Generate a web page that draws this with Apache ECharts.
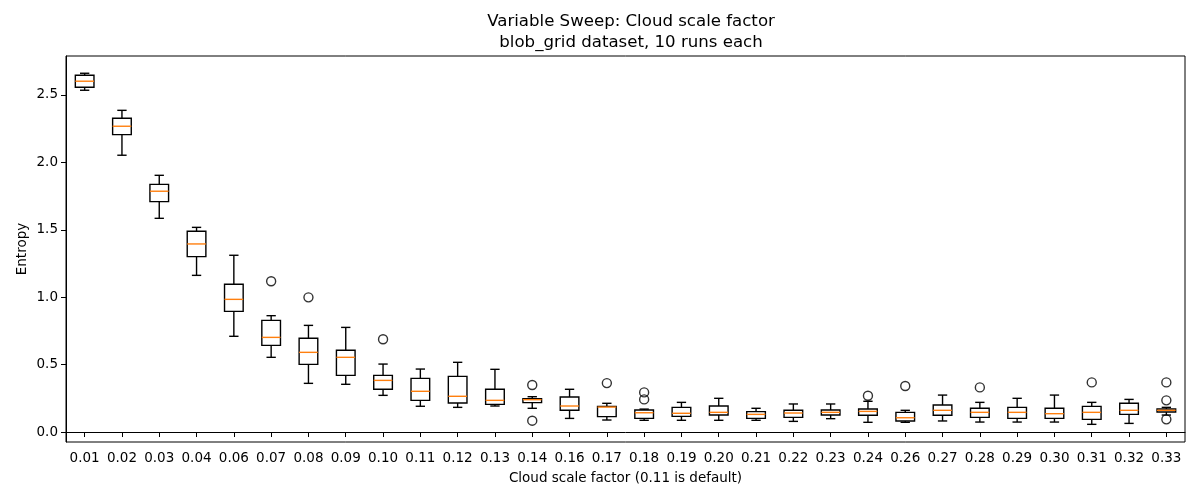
<!DOCTYPE html>
<html>
<head>
<meta charset="utf-8">
<script src="https://cdn.jsdelivr.net/npm/echarts@6/dist/echarts.min.js"></script>
<style>html,body{margin:0;padding:0;background:#fff}#c{width:1200px;height:500px}</style>
</head>
<body>
<div id="c"></div>
<script>
const categories = ['0.01','0.02','0.03','0.04','0.06','0.07','0.08','0.09','0.10','0.11','0.12','0.13','0.14','0.16','0.17','0.18','0.19','0.20','0.21','0.22','0.23','0.24','0.26','0.27','0.28','0.29','0.30','0.31','0.32','0.33'];
const whiskerLow = [2.535,2.053,1.585,1.162,0.710,0.554,0.361,0.354,0.272,0.191,0.183,0.193,0.176,0.101,0.089,0.087,0.087,0.087,0.087,0.079,0.099,0.072,0.072,0.082,0.074,0.074,0.074,0.057,0.064,0.126];
const q1 = [2.557,2.206,1.709,1.301,0.895,0.643,0.502,0.420,0.317,0.235,0.215,0.205,0.218,0.161,0.114,0.101,0.116,0.126,0.101,0.109,0.126,0.124,0.082,0.124,0.109,0.101,0.101,0.094,0.131,0.148];
const median = [2.602,2.268,1.786,1.395,0.984,0.702,0.591,0.554,0.383,0.302,0.265,0.235,0.240,0.193,0.185,0.143,0.139,0.146,0.131,0.141,0.146,0.153,0.106,0.161,0.146,0.146,0.136,0.146,0.161,0.161];
const q3 = [2.646,2.327,1.837,1.489,1.096,0.828,0.695,0.606,0.420,0.398,0.413,0.317,0.247,0.260,0.190,0.163,0.183,0.193,0.151,0.161,0.163,0.171,0.146,0.200,0.176,0.183,0.176,0.190,0.213,0.171];
const whiskerHigh = [2.661,2.386,1.904,1.518,1.311,0.863,0.791,0.776,0.504,0.467,0.517,0.465,0.262,0.317,0.213,0.170,0.220,0.250,0.176,0.208,0.208,0.228,0.161,0.274,0.220,0.250,0.274,0.220,0.242,0.183];
const outliers = [[5,1.118],[6,0.999],[8,0.688],[12,0.349],[12,0.084],[14,0.363],[15,0.294],[15,0.242],[21,0.269],[22,0.341],[24,0.331],[27,0.368],[29,0.368],[29,0.235],[29,0.094]];
const yTicks = [0, 0.5, 1.0, 1.5, 2.0, 2.5];

const boxData = categories.map((c, i) => [i, whiskerLow[i], q1[i], median[i], q3[i], whiskerHigh[i]]);
const chart = echarts.init(document.getElementById('c'), null, {renderer: 'canvas'});
const font = 'DejaVu Sans';
const lw = 1.4;

chart.setOption({
  animation: false,
  backgroundColor: '#fff',
  title: {
    text: 'Variable Sweep: Cloud scale factor\nblob_grid dataset, 10 runs each',
    left: 626, top: 6, textAlign: 'center',
    textStyle: {fontFamily: font, fontSize: 16.6, fontWeight: 'normal', color: '#000', lineHeight: 21}
  },
  grid: {left: 66, right: 15, top: 56, bottom: 58, show: true, borderColor: '#000', borderWidth: 1, backgroundColor: 'transparent'},
  xAxis: {
    type: 'category', data: categories, boundaryGap: true,
    name: 'Cloud scale factor (0.11 is default)', nameLocation: 'middle', nameGap: 29,
    nameMoveOverlap: false,
    nameTextStyle: {fontFamily: font, fontSize: 13.5, color: '#000'},
    axisLine: {show: true, lineStyle: {color: '#000', width: 1}},
    axisTick: {show: true, alignWithLabel: true, length: 5, lineStyle: {color: '#000', width: 1}},
    axisLabel: {fontFamily: font, fontSize: 13.5, color: '#000', margin: 9, interval: 0},
    splitLine: {show: false}
  },
  yAxis: {
    type: 'value', min: -0.074, max: 2.789,
    name: 'Entropy', nameLocation: 'middle', nameGap: 37, nameRotate: 90,
    nameMoveOverlap: false,
    nameTextStyle: {fontFamily: font, fontSize: 13.5, color: '#000'},
    axisLine: {show: true, lineStyle: {color: '#000', width: 1}},
    axisTick: {show: true, length: 5, customValues: yTicks, lineStyle: {color: '#000', width: 1}},
    axisLabel: {fontFamily: font, fontSize: 13.5, color: '#000', margin: 8, customValues: yTicks,
      formatter: v => v.toFixed(1)},
    splitLine: {show: false}
  },
  series: [
    {
      type: 'custom',
      data: boxData,
      encode: {x: 0, y: [1, 2, 3, 4, 5]},
      renderItem: function (params, api) {
        const x = api.value(0);
        const pLo = api.coord([x, api.value(1)]);
        const pQ1 = api.coord([x, api.value(2)]);
        const pMed = api.coord([x, api.value(3)]);
        const pQ3 = api.coord([x, api.value(4)]);
        const pHi = api.coord([x, api.value(5)]);
        const bw = api.size([1, 0])[0] * 0.5;
        const cw = bw / 2;
        const cx = pMed[0];
        const black = {stroke: '#000', lineWidth: lw, fill: null};
        return {
          type: 'group',
          children: [
            {type: 'line', shape: {x1: cx, y1: pQ1[1], x2: cx, y2: pLo[1]}, style: black},
            {type: 'line', shape: {x1: cx, y1: pQ3[1], x2: cx, y2: pHi[1]}, style: black},
            {type: 'line', shape: {x1: cx - cw / 2, y1: pLo[1], x2: cx + cw / 2, y2: pLo[1]}, style: black},
            {type: 'line', shape: {x1: cx - cw / 2, y1: pHi[1], x2: cx + cw / 2, y2: pHi[1]}, style: black},
            {type: 'rect', shape: {x: cx - bw / 2, y: pQ3[1], width: bw, height: pQ1[1] - pQ3[1]}, style: {stroke: '#000', lineWidth: lw, fill: 'none'}},
            {type: 'line', shape: {x1: cx - bw / 2, y1: pMed[1], x2: cx + bw / 2, y2: pMed[1]}, style: {stroke: '#ff7f0e', lineWidth: lw}}
          ]
        };
      },
      z: 2
    },
    {
      type: 'scatter',
      data: outliers,
      symbol: 'circle', symbolSize: 9,
      itemStyle: {color: 'rgba(0,0,0,0)', borderColor: '#000', borderWidth: lw},
      z: 3
    }
  ]
});
</script>
</body>
</html>
